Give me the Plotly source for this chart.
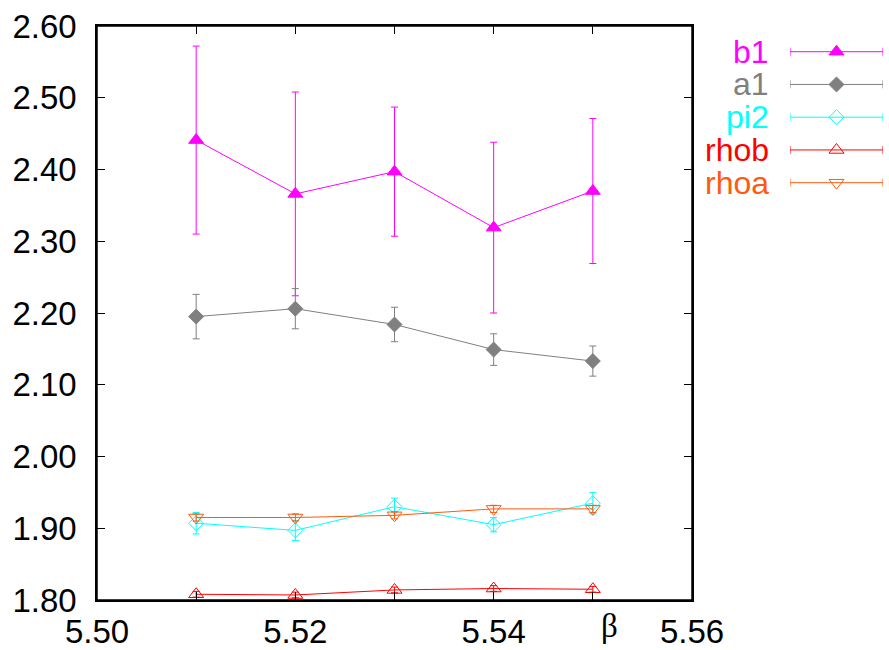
import plotly.graph_objects as go

# ---- data ----
beta = [5.51, 5.52, 5.53, 5.54, 5.55]
b1 = [2.441, 2.366, 2.397, 2.319, 2.370]
b1_err = [0.131, 0.142, 0.090, 0.119, 0.101]
a1 = [2.195, 2.206, 2.184, 2.149, 2.133]
a1_err = [0.031, 0.028, 0.024, 0.022, 0.021]
pi2 = [1.907, 1.897, 1.930, 1.905, 1.935]
pi2_err = [0.015, 0.014, 0.012, 0.010, 0.015]
rhob = [1.808, 1.807, 1.814, 1.816, 1.815]
rhob_err = [0.004, 0.004, 0.004, 0.004, 0.004]
rhoa = [1.915, 1.915, 1.918, 1.927, 1.927]
rhoa_err = [0.005, 0.005, 0.005, 0.005, 0.005]

series_names = ["b1", "a1", "pi2", "rhob", "rhoa"]
series_vals = [b1, a1, pi2, rhob, rhoa]
series_errs = [b1_err, a1_err, pi2_err, rhob_err, rhoa_err]
colors = ["#ff00ff", "#808080", "#00ffff", "#ff0000", "#ff5a10"]
symbols = ["triangle-up", "diamond", "diamond-open", "triangle-up-open", "triangle-down-open"]
sizes = [13, 11.5, 11.5, 13, 13]

xtickvals = [5.50, 5.51, 5.52, 5.53, 5.54, 5.55, 5.56]
xticktext = ["5.50", "", "5.52", "", "5.54", "", "5.56"]
ytickvals = [1.80, 1.90, 2.00, 2.10, 2.20, 2.30, 2.40, 2.50, 2.60]
yticktext = ["1.80", "1.90", "2.00", "2.10", "2.20", "2.30", "2.40", "2.50", "2.60"]

FONT = "Liberation Sans, Arial, Helvetica, sans-serif"

# page body margin is removed in post_script, so figure pixels == screen pixels
W, H = 889, 650
L, T = 97, 26
plot_right, plot_bottom = 692, 600
legend_right = 883
R = W - legend_right
B = H - plot_bottom
plot_w = W - L - R
plot_h = H - T - B
main_frac = (plot_right - L) / plot_w

fig = go.Figure()

for name, vals, errs, col, sym, sz in zip(series_names, series_vals, series_errs, colors, symbols, sizes):
    fig.add_trace(go.Scatter(
        x=beta, y=vals, name=name, mode="lines+markers",
        line=dict(color=col, width=1),
        marker=dict(symbol=sym, size=sz, color=col, line=dict(color=col, width=1)),
        error_y=dict(type="data", array=errs, visible=True, color=col, thickness=1, width=3.5),
        showlegend=False, xaxis="x", yaxis="y",
    ))

# custom legend (text left, sample right), rows indexed 0..4
row_px0, row_dy = 51.7, 32.75
top_i = (T - row_px0) / row_dy
bot_i = (plot_bottom - row_px0) / row_dy
for i, (name, col, sym, sz) in enumerate(zip(series_names, colors, symbols, sizes)):
    fig.add_trace(go.Scatter(
        x=[0.5], y=[i], mode="markers",
        marker=dict(symbol=sym, size=sz, color=col, line=dict(color=col, width=1)),
        error_x=dict(type="data", array=[0.5], visible=True, color=col, thickness=1, width=4),
        showlegend=False, xaxis="x2", yaxis="y2", hoverinfo="skip",
    ))
    fig.add_annotation(
        x=(771 - L) / plot_w, xref="paper", y=i, yref="y2",
        text=name, showarrow=False, xanchor="right", yanchor="middle",
        font=dict(family=FONT, size=32, color=col),
    )

# beta axis label
fig.add_annotation(
    x=(609 - L) / plot_w, xref="paper",
    y=(plot_bottom - 626) / plot_h, yref="paper",
    text="β", showarrow=False, xanchor="center", yanchor="middle",
    font=dict(family="Liberation Serif, DejaVu Serif, serif", size=33, color="black"),
)

# plot frame
fig.add_shape(type="rect", xref="x domain", yref="y domain", x0=0, x1=1, y0=0, y1=1,
              line=dict(color="black", width=1.5), layer="above")

axis_common = dict(
    showgrid=False, zeroline=False, showline=True, linecolor="black", linewidth=1.5,
    mirror="ticks", ticks="inside", ticklen=8, tickcolor="black", tickwidth=1,
    tickfont=dict(family=FONT, size=33, color="black"), automargin=False,
    ticklabeloverflow="allow",
)

fig.update_layout(
    width=W, height=H,
    margin=dict(l=L, r=R, t=T, b=B),
    paper_bgcolor="white", plot_bgcolor="white",
    showlegend=False,
    xaxis=dict(domain=[0, main_frac], range=[5.50, 5.56], tickmode="array",
               tickvals=xtickvals, ticktext=xticktext, ticklabelstandoff=2, **axis_common),
    yaxis=dict(range=[1.80, 2.60], tickmode="array", tickvals=ytickvals,
               ticktext=yticktext, ticklabelstandoff=12, **axis_common),
    xaxis2=dict(domain=[(790 - L) / plot_w, 1.0], range=[0, 1], visible=False, anchor="y2"),
    yaxis2=dict(domain=[0, 1], range=[bot_i, top_i], visible=False, anchor="x2"),
)

fig.write_html(
    "out.html",
    config={"displayModeBar": False},
    post_script="document.body.style.margin='0';document.body.style.overflow='hidden';",
)
